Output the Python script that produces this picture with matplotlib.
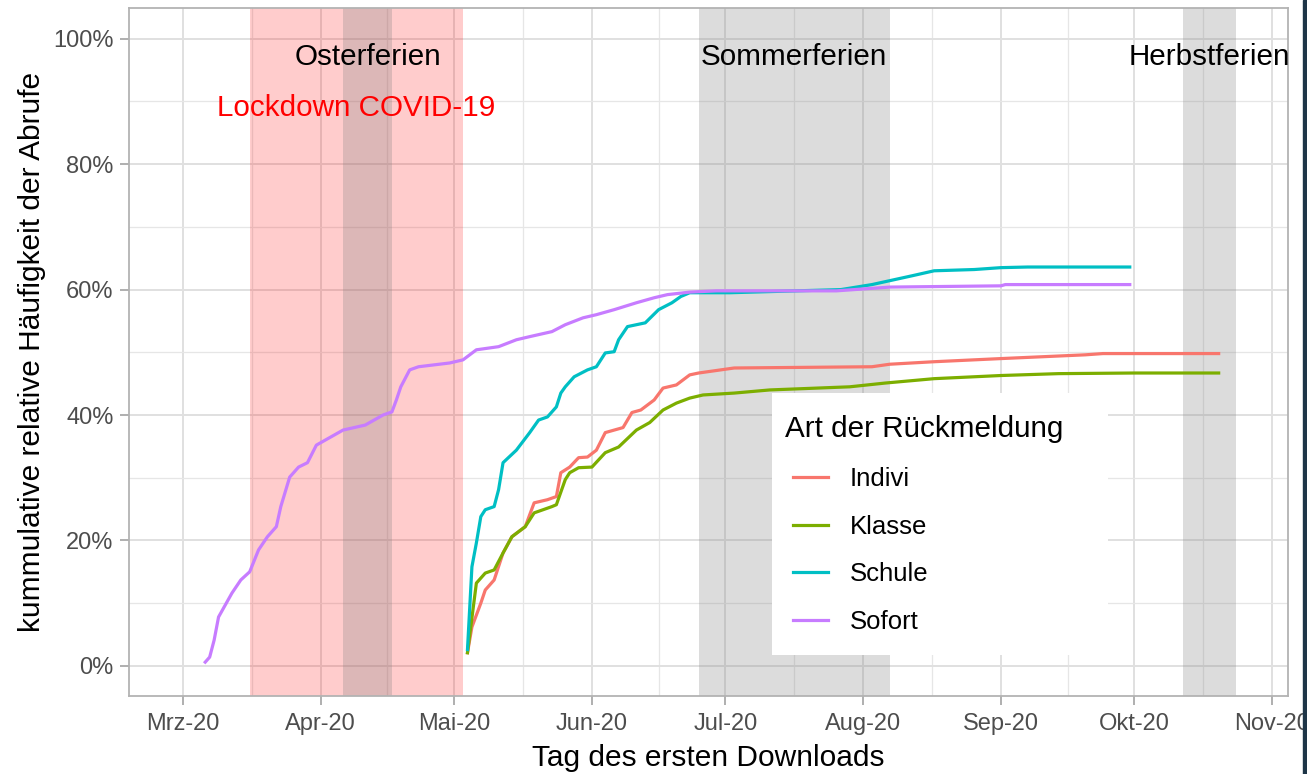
import numpy as np
import matplotlib
matplotlib.use("Agg")
import matplotlib.pyplot as plt
import matplotlib.dates as mdates
from matplotlib.ticker import PercentFormatter, FixedLocator, MultipleLocator

plt.rcParams['font.family'] = ['Liberation Sans', 'DejaVu Sans']

# cumulative relative frequency (%) by date of first download
sofort_dates = ['2020-03-06', '2020-03-07', '2020-03-08', '2020-03-09', '2020-03-12', '2020-03-14',
                '2020-03-16', '2020-03-18', '2020-03-20', '2020-03-22', '2020-03-23', '2020-03-25',
                '2020-03-27', '2020-03-29', '2020-03-31', '2020-04-03', '2020-04-06', '2020-04-11',
                '2020-04-15', '2020-04-17', '2020-04-18', '2020-04-19', '2020-04-21', '2020-04-23',
                '2020-04-30', '2020-05-03', '2020-05-06', '2020-05-11', '2020-05-15', '2020-05-18',
                '2020-05-23', '2020-05-26', '2020-05-30', '2020-06-02', '2020-06-06', '2020-06-11',
                '2020-06-15', '2020-06-18', '2020-06-23', '2020-06-29', '2020-07-26', '2020-08-01',
                '2020-08-07', '2020-09-01', '2020-09-02', '2020-09-30']
sofort_vals = [0.6, 1.4, 4.1, 7.8, 11.6, 13.7, 15.0, 18.5, 20.6, 22.2, 25.4, 30.1, 31.7, 32.4, 35.2,
               36.4, 37.6, 38.4, 40.0, 40.5, 42.4, 44.5, 47.2, 47.7, 48.3, 48.8, 50.4, 50.9, 52.0,
               52.5, 53.3, 54.4, 55.5, 56.0, 56.8, 57.9, 58.7, 59.2, 59.6, 59.8, 59.8, 60.1, 60.4,
               60.6, 60.8, 60.8]

schule_dates = ['2020-05-04', '2020-05-05', '2020-05-06', '2020-05-07', '2020-05-08', '2020-05-10',
                '2020-05-11', '2020-05-12', '2020-05-15', '2020-05-18', '2020-05-20', '2020-05-22',
                '2020-05-24', '2020-05-25', '2020-05-26', '2020-05-28', '2020-05-31', '2020-06-02',
                '2020-06-04', '2020-06-06', '2020-06-07', '2020-06-09', '2020-06-13', '2020-06-16',
                '2020-06-19', '2020-06-21', '2020-06-23', '2020-07-02', '2020-07-27', '2020-08-03',
                '2020-08-12', '2020-08-17', '2020-08-26', '2020-09-01', '2020-09-07', '2020-09-30']
schule_vals = [2.6, 15.8, 19.6, 23.8, 24.9, 25.4, 28.1, 32.4, 34.4, 37.2, 39.2, 39.7, 41.3, 43.5,
               44.5, 46.1, 47.2, 47.7, 49.9, 50.1, 52.0, 54.1, 54.7, 56.8, 57.9, 58.9, 59.5, 59.5,
               60.0, 60.8, 62.2, 63.0, 63.2, 63.5, 63.6, 63.6]

indivi_dates = ['2020-05-04', '2020-05-05', '2020-05-07', '2020-05-08', '2020-05-10', '2020-05-12',
                '2020-05-14', '2020-05-17', '2020-05-19', '2020-05-22', '2020-05-24', '2020-05-25',
                '2020-05-27', '2020-05-29', '2020-05-31', '2020-06-02', '2020-06-04', '2020-06-08',
                '2020-06-10', '2020-06-12', '2020-06-15', '2020-06-17', '2020-06-20', '2020-06-23',
                '2020-06-25', '2020-06-30', '2020-07-03', '2020-08-03', '2020-08-07', '2020-08-17',
                '2020-09-01', '2020-09-20', '2020-09-24', '2020-10-20']
indivi_vals = [2.1, 6.2, 10.0, 12.1, 13.7, 18.0, 20.6, 22.2, 26.0, 26.5, 27.0, 30.8, 31.7, 33.2,
               33.3, 34.4, 37.2, 38.0, 40.4, 40.8, 42.4, 44.3, 44.8, 46.4, 46.7, 47.2, 47.5, 47.7,
               48.1, 48.5, 49.0, 49.6, 49.8, 49.8]

klasse_dates = ['2020-05-04', '2020-05-06', '2020-05-08', '2020-05-10', '2020-05-12', '2020-05-14',
                '2020-05-17', '2020-05-19', '2020-05-23', '2020-05-24', '2020-05-26', '2020-05-27',
                '2020-05-29', '2020-06-01', '2020-06-04', '2020-06-07', '2020-06-11', '2020-06-14',
                '2020-06-17', '2020-06-20', '2020-06-23', '2020-06-26', '2020-07-03', '2020-07-11',
                '2020-07-29', '2020-08-06', '2020-08-17', '2020-09-01', '2020-09-14', '2020-10-01',
                '2020-10-20']
klasse_vals = [2.1, 13.2, 14.8, 15.3, 18.0, 20.6, 22.2, 24.4, 25.4, 25.7, 29.7, 30.8, 31.6, 31.7,
               34.0, 34.9, 37.6, 38.8, 40.8, 41.9, 42.7, 43.2, 43.5, 44.0, 44.5, 45.1, 45.8, 46.3,
               46.6, 46.7, 46.7]

series_names = ['Indivi', 'Klasse', 'Schule', 'Sofort']
series_colors = ['#F8766D', '#7CAE00', '#00BFC4', '#C77CFF']

# shaded periods
lockdown = ('2020-03-16', '2020-05-03')
holidays = [('Osterferien', '2020-04-06', '2020-04-17'),
            ('Sommerferien', '2020-06-25', '2020-08-07'),
            ('Herbstferien', '2020-10-12', '2020-10-24')]

month_ticks = ['2020-03-01', '2020-04-01', '2020-05-01', '2020-06-01', '2020-07-01',
               '2020-08-01', '2020-09-01', '2020-10-01', '2020-11-01']
month_labels = ['Mrz-20', 'Apr-20', 'Mai-20', 'Jun-20', 'Jul-20', 'Aug-20', 'Sep-20', 'Okt-20', 'Nov-20']


def d(s):
    return mdates.date2num(np.datetime64(s))


W, H = 1307, 774
x0, x1, y0, y1 = 129, 1288, 8, 696   # panel in pixels
fig = plt.figure(figsize=(W / 100, H / 100), dpi=100)
ax = fig.add_axes([x0 / W, 1 - y1 / H, (x1 - x0) / W, (y1 - y0) / H])
ax.set_axisbelow(True)


def ax_frac(px, py):
    return (px - x0) / (x1 - x0), (y1 - py) / (y1 - y0)


# grid (ggplot theme_bw look)
major_x = [d(m) for m in month_ticks]
minor_x = [(a + b) / 2 for a, b in zip(major_x[:-1], major_x[1:])]
ax.xaxis.set_major_locator(FixedLocator(major_x))
ax.xaxis.set_minor_locator(FixedLocator(minor_x))
ax.set_xticklabels(month_labels)
ax.yaxis.set_major_locator(MultipleLocator(20))
ax.yaxis.set_minor_locator(MultipleLocator(10))
ax.yaxis.set_major_formatter(PercentFormatter(100, decimals=0))
ax.grid(which='major', color='#E0E0E0', lw=1.4)
ax.grid(which='minor', color='#E6E6E6', lw=0.9)

# shaded regions
ax.axvspan(d(lockdown[0]), d(lockdown[1]), color='red', alpha=0.2, lw=0, zorder=1)
for name, a, b in holidays:
    ax.axvspan(d(a), d(b), color='#808080', alpha=0.27, lw=0, zorder=1)
    ax.text((d(a) + d(b)) / 2, 95.85, name, ha='center', va='baseline', fontsize=21.3, color='black')
ax.text((d(lockdown[0]) + d(lockdown[1])) / 2, 87.6, 'Lockdown COVID-19', ha='center',
        va='baseline', fontsize=21.3, color='red')

all_dates = [indivi_dates, klasse_dates, schule_dates, sofort_dates]
all_vals = [indivi_vals, klasse_vals, schule_vals, sofort_vals]
for name, col, ds, vs in zip(series_names, series_colors, all_dates, all_vals):
    ax.plot([d(x) for x in ds], vs, color=col, lw=2.3, label=name, zorder=3)

ax.set_xlim(d('2020-03-01') - 12.15, d('2020-03-01') + 248.6)
ax.set_ylim(-4.8, 104.9)

for s in ax.spines.values():
    s.set_color('#B3B3B3')
    s.set_linewidth(1.3)
ax.tick_params(which='major', length=6.5, width=1.1, color='#9A9A9A', labelcolor='#4D4D4D',
               labelsize=17)
ax.tick_params(axis='x', pad=6)
ax.tick_params(axis='y', pad=4.5)
ax.tick_params(which='minor', length=0)

ax.set_xlabel('Tag des ersten Downloads', fontsize=21.5, labelpad=6)
ax.set_ylabel('kummulative relative Häufigkeit der Abrufe', fontsize=21.5, labelpad=5)

# legend: white box and title drawn separately so the layout matches the reference
bx, by = ax_frac(772, 655)
bx2, by2 = ax_frac(1108, 393)
ax.add_patch(plt.Rectangle((bx, by), bx2 - bx, by2 - by, transform=ax.transAxes,
                           facecolor='white', edgecolor='none', zorder=4))
tx, ty = ax_frac(785, 429)
ax.text(tx, ty, 'Art der Rückmeldung', transform=ax.transAxes, ha='left', va='center',
        fontsize=21.3, zorder=6)
leg = ax.legend(loc='upper left', bbox_to_anchor=ax_frac(793, 467),
                fontsize=18.5, frameon=False, borderaxespad=0,
                borderpad=0, handlelength=1.36, handletextpad=0.86, labelspacing=0.92)
leg.set_zorder(5)
for line in leg.get_lines():
    line.set_linewidth(2.3)

# dark frame strip at the right edge of the screenshot
fig.patches.append(plt.Rectangle((1303 / W, 0), 1, 1, transform=fig.transFigure,
                                 color='#1E3547', zorder=10))

fig.savefig('out.png', dpi=100)
